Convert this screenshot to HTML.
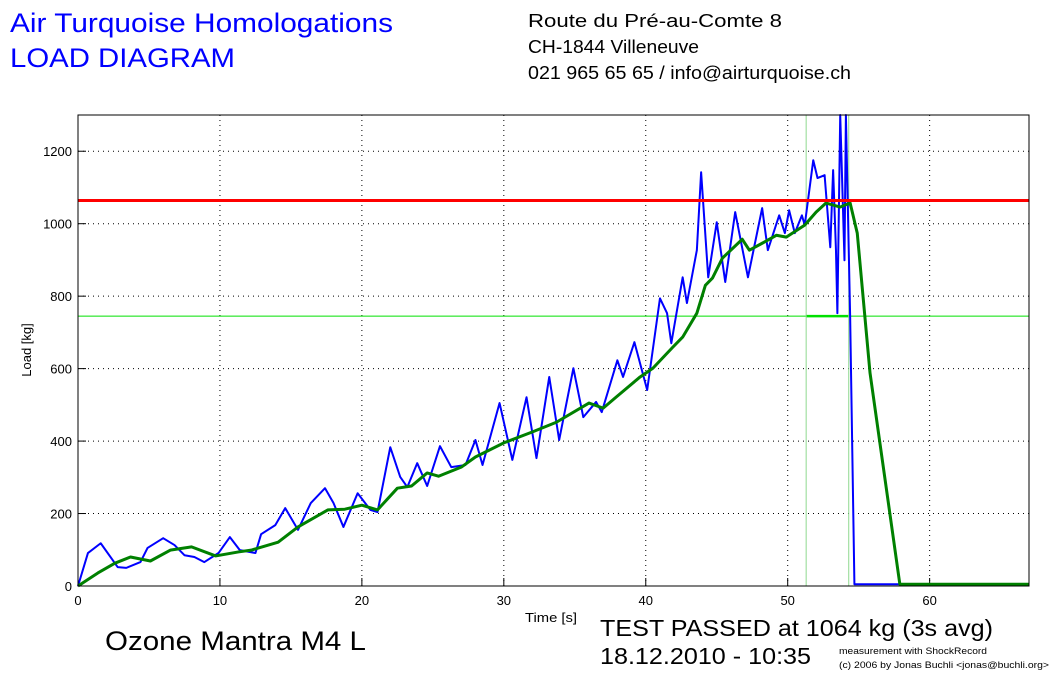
<!DOCTYPE html>
<html><head><meta charset="utf-8"><style>
body{margin:0;background:#fff;width:1055px;height:674px;overflow:hidden;font-family:"Liberation Sans",sans-serif}
svg{position:absolute;left:0;top:0}
</style></head><body>
<svg id="c" width="1055" height="674">
<text x="10" y="32" font-size="27" fill="#0000ff" textLength="383" lengthAdjust="spacingAndGlyphs">Air Turquoise Homologations</text>
<text x="10" y="67" font-size="27" fill="#0000ff" textLength="225" lengthAdjust="spacingAndGlyphs">LOAD DIAGRAM</text>
<text x="528" y="27" font-size="18" textLength="254" lengthAdjust="spacingAndGlyphs">Route du Pré-au-Comte 8</text>
<text x="528" y="53" font-size="18" textLength="171" lengthAdjust="spacingAndGlyphs">CH-1844 Villeneuve</text>
<text x="528" y="79" font-size="18" textLength="323" lengthAdjust="spacingAndGlyphs">021 965 65 65 / info@airturquoise.ch</text>
<text x="525" y="622" font-size="13" textLength="52" lengthAdjust="spacingAndGlyphs">Time [s]</text>
<text transform="translate(31,350) rotate(-90)" font-size="13" text-anchor="middle">Load [kg]</text>
<text x="105" y="650" font-size="27" textLength="261" lengthAdjust="spacingAndGlyphs">Ozone Mantra M4 L</text>
<text x="600" y="636" font-size="23" textLength="393" lengthAdjust="spacingAndGlyphs">TEST PASSED at 1064 kg (3s avg)</text>
<text x="600" y="664" font-size="23" textLength="211" lengthAdjust="spacingAndGlyphs">18.12.2010 - 10:35</text>
<text x="839" y="654" font-size="9" textLength="148" lengthAdjust="spacingAndGlyphs">measurement with ShockRecord</text>
<text x="839" y="668" font-size="9" textLength="210" lengthAdjust="spacingAndGlyphs">(c) 2006 by Jonas Buchli &lt;jonas@buchli.org&gt;</text>
<g id="plot"></g>
</svg>
<script>
const xTicks=[0,10,20,30,40,50,60];
const yTicks=[0,200,400,600,800,1000,1200];
const limitLoad=1064;
const refLoad=745;
const markerTimes=[51.3,54.3];
const blueT=[0,0.7,1.6,2.8,3.4,4.4,4.9,6,6.8,7.5,8.2,8.9,9.9,10.7,11.4,12.5,12.9,13.9,14.6,15.5,16.4,17.4,18,18.7,19.7,20.6,21.1,22,22.7,23.2,23.9,24.6,25.5,26.3,27.3,28,28.5,29.7,30.6,31.6,32.3,33.2,33.9,34.9,35.6,36.5,36.9,38,38.4,39.2,40.1,41,41.5,41.8,42.6,42.9,43.6,43.9,44.4,45,45.6,46.3,47.2,48.2,48.6,49.4,49.8,50.1,50.5,51,51.2,51.8,52.1,52.6,53,53.2,53.4,53.5,53.7,54,54.1,54.4,54.7,58];
const blueV=[0,91,118,52,50,66,105,132,113,85,80,66,91,135,99,91,143,168,215,155,229,270,229,163,256,210,204,383,301,273,339,276,386,328,334,403,334,505,348,521,353,577,403,601,466,508,480,623,577,673,541,794,753,670,852,781,927,1142,852,1004,839,1032,852,1043,927,1023,974,1037,974,1023,996,1175,1126,1134,935,1148,927,753,1300,899,1300,742,5,5];
const greenT=[0,1.4,2.6,3.7,5.1,6.5,8,9.7,11.3,12.2,14.1,15.5,17.6,18.8,20,21.1,22.5,23.5,24.6,25.4,27,28,30,32,33.7,36,37,37.9,39.6,40.5,41.9,42.6,43.6,44.2,44.7,45.4,46.8,47.3,48.2,49.2,49.9,51.2,52,52.7,53.7,54.4,54.9,55.8,57.9,67];
const greenV=[0,36,63,80,69,99,108,83,94,99,121,163,210,212,223,210,270,276,312,303,328,356,395,425,452,505,491,521,577,601,659,687,753,830,850,905,957,927,946,968,963,996,1032,1057,1046,1057,974,588,5,5];
const X0=78,X1=1029,Y0=586,Y1=115,XMAX=67,YMAX=1300;
const sx=t=>X0+t*(X1-X0)/XMAX, sy=v=>Y0-v*(Y0-Y1)/YMAX;
const NS='http://www.w3.org/2000/svg', g=document.getElementById('plot');
function mk(tag,a){const e=document.createElementNS(NS,tag);for(const k in a)e.setAttribute(k,a[k]);g.appendChild(e);return e;}
xTicks.forEach(t=>{const x=sx(t);
 if(t>0){const l=mk('line',{x1:x,y1:Y1,x2:x,y2:Y0,stroke:'#000','stroke-dasharray':'1,4'});
 
 }
 const tk=mk('line',{x1:x,y1:Y0,x2:x,y2:Y0-8,stroke:'#000'});
 
 
 const tx=mk('text',{x:x,y:Y0+19,'font-size':13,'text-anchor':'middle'});tx.textContent=t;
 
 });
yTicks.forEach(v=>{const y=sy(v);
 if(v>0){const l=mk('line',{x1:X0,y1:y,x2:X1,y2:y,stroke:'#000','stroke-dasharray':'1,4'});
 
 }
 const tk=mk('line',{x1:X0,y1:y,x2:X0+8,y2:y,stroke:'#000'});
 
 
 const tx=mk('text',{x:X0-6,y:y+5,'font-size':13,'text-anchor':'end'});tx.textContent=v;
 
 });
const rl=mk('line',{x1:X0,y1:sy(refLoad),x2:X1,y2:sy(refLoad),stroke:'#00e000','stroke-width':1});


const rs=mk('line',{x1:sx(markerTimes[0]),y1:sy(refLoad),x2:sx(markerTimes[1]),y2:sy(refLoad),stroke:'#00e000','stroke-width':2.5});


markerTimes.forEach(t=>{const m=mk('line',{x1:sx(t),y1:Y1,x2:sx(t),y2:Y0,stroke:'#8fd88f','stroke-width':1});
 
 });
const bp=mk('polyline',{points:blueT.map((t,i)=>sx(t)+','+sy(blueV[i])).join(' '),fill:'none',stroke:'#0000ff','stroke-width':2,'stroke-linejoin':'round'});


const gp=mk('polyline',{points:greenT.map((t,i)=>sx(t)+','+sy(greenV[i])).join(' '),fill:'none',stroke:'#008000','stroke-width':3,'stroke-linejoin':'round'});


const red=mk('line',{x1:X0,y1:sy(limitLoad),x2:X1,y2:sy(limitLoad),stroke:'#ff0000','stroke-width':3});


const box=mk('rect',{x:X0,y:Y1,width:X1-X0,height:Y0-Y1,fill:'none',stroke:'#000'});


</script>
</body></html>
